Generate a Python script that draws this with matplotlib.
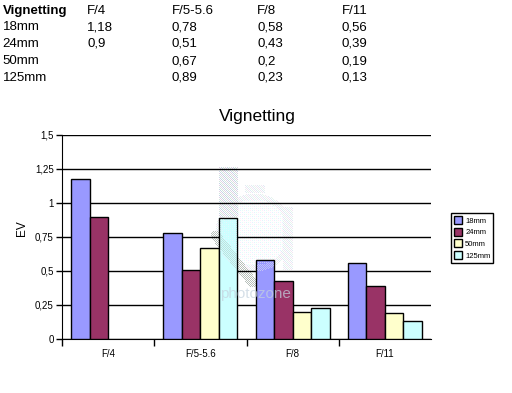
import matplotlib
matplotlib.use('Agg')
import matplotlib.pyplot as plt
import numpy as np

# values from the table above the chart
stops = ['F/4', 'F/5-5.6', 'F/8', 'F/11']
lenses = ['18mm', '24mm', '50mm', '125mm']
v18 = [1.18, 0.78, 0.58, 0.56]
v24 = [0.9, 0.51, 0.43, 0.39]
v50 = [None, 0.67, 0.2, 0.19]
v125 = [None, 0.89, 0.23, 0.13]
yticks = [0, 0.25, 0.5, 0.75, 1, 1.25, 1.5]
ylabels = ['0', '0,25', '0,5', '0,75', '1', '1,25', '1,5']
table_txt = [['18mm', '1,18', '0,78', '0,58', '0,56'],
             ['24mm', '0,9', '0,51', '0,43', '0,39'],
             ['50mm', '', '0,67', '0,2', '0,19'],
             ['125mm', '', '0,89', '0,23', '0,13']]

colors = ['#9999ff', '#993366', '#ffffcc', '#ccffff']
W, H = 512, 393
plt.rcParams['font.family'] = ['Liberation Sans', 'DejaVu Sans']

fig = plt.figure(figsize=(W / 100, H / 100), dpi=100)
ax = fig.add_axes([62 / W, 1 - 339 / H, 369 / W, 204 / H])
ax.set_zorder(1)
ax.patch.set_alpha(0)

# table at the top, pixel positions (baselines)
col_x = [2.5, 87, 172, 257, 342]
fig.text(col_x[0] / W, 1 - 14 / H, 'Vignetting', fontsize=9.5, fontweight='bold', va='baseline')
for x, s in zip(col_x[1:], stops):
    fig.text(x / W, 1 - 14 / H, s, fontsize=9.5, va='baseline')
for r, row in enumerate(table_txt):
    for x, s in zip(col_x, row):
        fig.text(x / W, 1 - (30 + r * 17) / H, s, fontsize=9.5, va='baseline')

fig.text(257 / W, 1 - 121 / H, 'Vignetting', fontsize=12.5, ha='center', va='baseline')

x = np.arange(4)
bars = []
for i, vals in enumerate([v18, v24, v50, v125]):
    hs = [np.nan if v is None else v for v in vals]
    bars += list(ax.bar(x + 0.1 + 0.2 * i, hs, 0.2, align='edge', color=colors[i], edgecolor='black',
                        linewidth=1, label=lenses[i], zorder=3))

ax.set_xlim(0, 4)
ax.set_ylim(0, 1.5)
ax.set_yticks(yticks)
ax.set_yticklabels(ylabels)
ax.set_xticks(np.arange(4))
ax.set_xticklabels([])
ax.set_xticks(x + 0.5, minor=True)
ax.set_xticklabels(stops, minor=True)
ax.tick_params(axis='x', which='major', length=5, width=1, direction='out')
ax.tick_params(axis='x', which='minor', length=0, labelsize=7, pad=7)
ax.tick_params(axis='y', length=4, width=1, labelsize=7, pad=2)
ax.grid(axis='y', color='black', linewidth=1, zorder=0)
ax.set_axisbelow(True)
for s in ['top', 'right']:
    ax.spines[s].set_visible(False)
ax.set_ylabel('EV', fontsize=8.5)
ax.yaxis.set_label_coords((28 - 62) / 369, (339 - 228) / 204)

leg = ax.legend(loc='upper left', bbox_to_anchor=(451 / W, 1 - 213 / H), bbox_transform=fig.transFigure,
                fontsize=5.5, fancybox=False, edgecolor='black', framealpha=1, borderaxespad=0,
                handlelength=1.1, handleheight=1.2, handletextpad=0.35, labelspacing=0.42,
                borderpad=0.4)
leg.get_frame().set_linewidth(1)

# dithered watermark, pixel masks
yy, xx = np.mgrid[0:H, 0:W]
strap = (xx >= 219) & (xx < 238) & (yy >= 167) & (yy < 217)
top_rect = (xx >= 245) & (xx < 265) & (yy >= 185) & (yy < 193)
side_rect = (xx >= 283) & (xx < 293) & (yy >= 207) & (yy < 270)
dist = np.hypot(xx - 254, yy - 232)
ring = (dist >= 33) & (dist < 39)
disc = dist < 33
t = np.clip(((xx - 215) * 37 + (yy - 235) * 47) / (37 ** 2 + 47 ** 2), 0, 1)
band = np.hypot(xx - (215 + 37 * t), yy - (235 + 47 * t)) < 5

chk = (xx + yy) % 2 == 0
sparse = (xx % 2 == 0) & (yy % 2 == 0)
img = np.zeros((H, W, 4))
pastel = np.array([[0.78, 0.84, 0.9], [0.88, 0.82, 0.9], [0.82, 0.9, 0.86]])
light = np.array([[0.88, 0.92, 0.96], [0.95, 0.9, 0.95], [0.9, 0.96, 0.93]])
pale = np.array([[0.9, 0.95, 1.0], [1.0, 0.93, 0.98], [0.9, 1.0, 0.97]])
pick = (xx + 2 * yy) % 3
for mask, pal in [(disc & sparse, pale), ((top_rect | side_rect | ring) & chk, light), (strap & chk, pastel)]:
    img[mask, :3] = pal[pick[mask]]
    img[mask, 3] = 1
gm = band & chk
img[gm, :3] = [0.72, 0.75, 0.73]
img[gm, 3] = 1
fig.figimage(img, 0, 0, origin='upper', zorder=0)

# same dither shows through the bars, a bit weaker
fig.canvas.draw()
inside = np.zeros((H, W), dtype=bool)
for b in bars:
    if not np.isfinite(b.get_height()):
        continue
    e = b.get_window_extent()
    inside |= (xx > e.x0 + 1) & (xx < e.x1 - 1) & (H - yy > e.y0 + 1) & (H - yy < e.y1 - 1)
over = img.copy()
over[~inside, 3] = 0
over[inside, 3] *= 0.5
fig.figimage(over, 0, 0, origin='upper', zorder=5)
fig.text(220 / W, 1 - 294 / H, 'photozone', fontsize=11, color='#c4d2de', alpha=0.7, va='center', zorder=6)

fig.savefig('out.png', dpi=100)
